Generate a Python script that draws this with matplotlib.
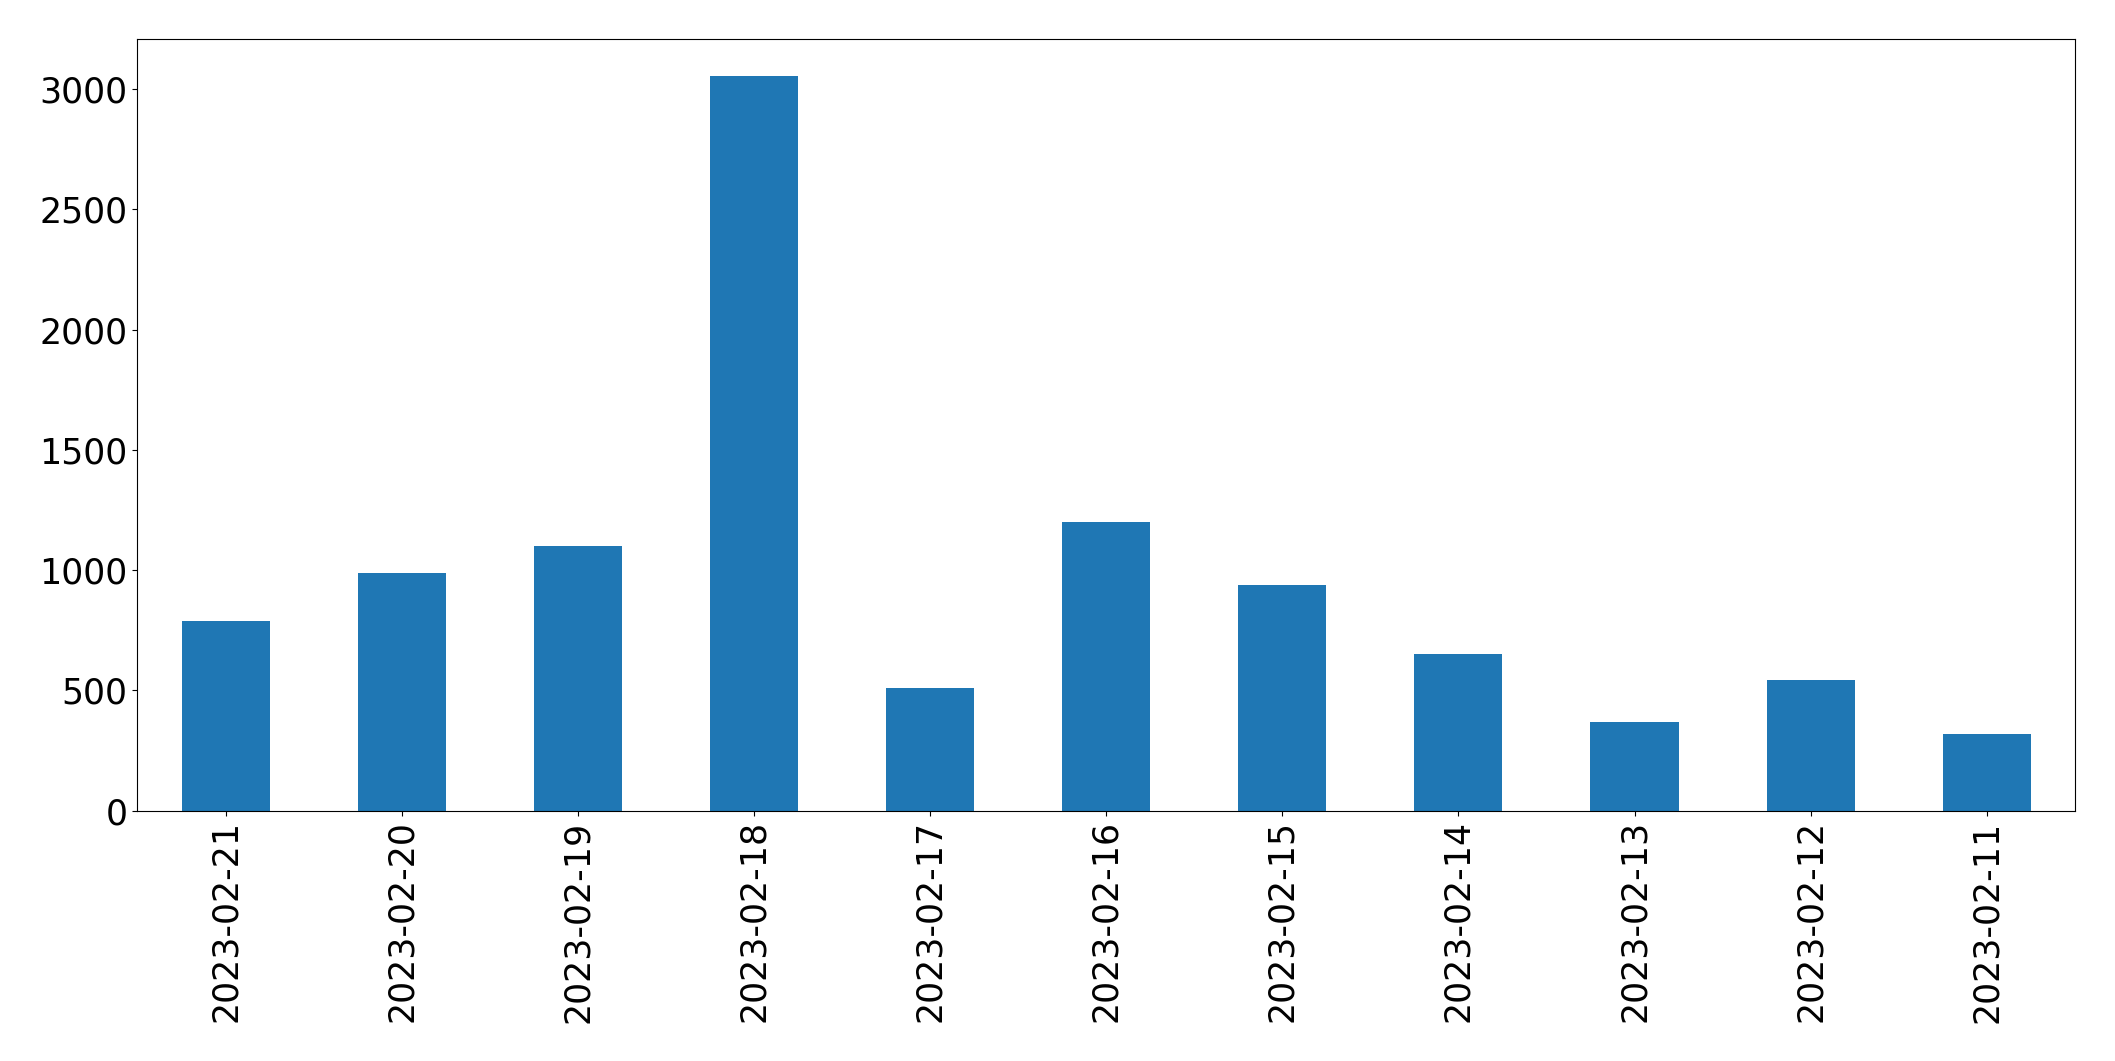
import matplotlib
matplotlib.use("Agg")
import matplotlib.pyplot as plt

dates = ["2023-02-21", "2023-02-20", "2023-02-19", "2023-02-18", "2023-02-17",
         "2023-02-16", "2023-02-15", "2023-02-14", "2023-02-13", "2023-02-12",
         "2023-02-11"]
counts = [789, 989, 1101, 3055, 509, 1201, 939, 652, 368, 543, 318]

fig = plt.figure(figsize=(21.15, 10.61), dpi=100)
ax = fig.add_axes([0.065, 0.236, 0.916, 0.727])
x = range(len(dates))
ax.bar(x, counts, width=0.5, color="#1f77b4")
ax.set_xlim(-0.5, len(dates) - 0.5)
ax.set_xticks(list(x))
ax.set_xticklabels(dates, rotation=90)
ax.tick_params(axis="both", labelsize=25)
fig.savefig("out.png", dpi=100)
